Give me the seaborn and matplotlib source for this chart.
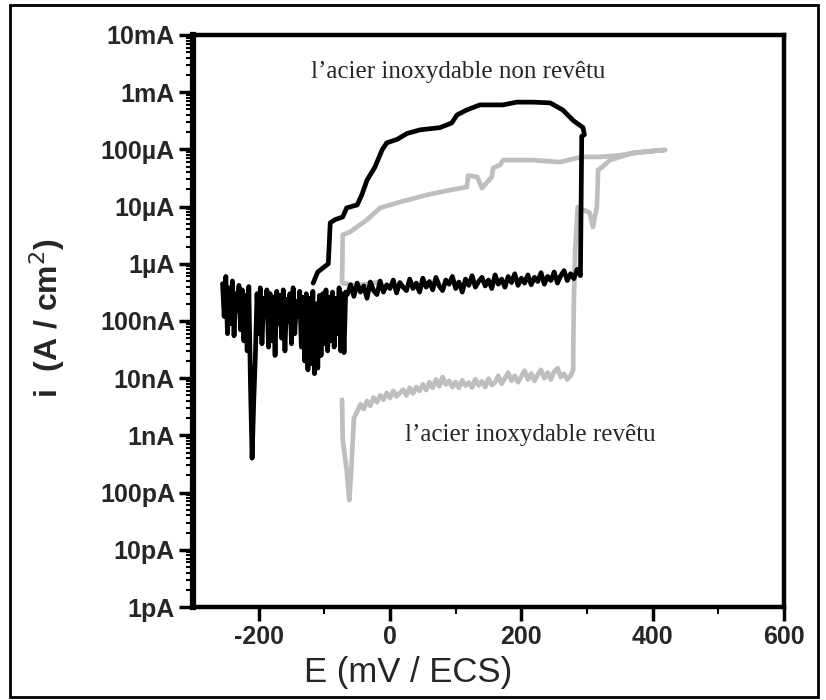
import matplotlib
matplotlib.use("Agg")
import matplotlib.pyplot as plt
from matplotlib.patches import Rectangle
from matplotlib.ticker import FixedLocator, LogLocator, NullFormatter
import seaborn as sns
import pandas as pd
import numpy as np

# ---- data (E in mV/ECS) ----
# uncoated steel: noisy start near the corrosion potential (current in nA)
black_start_E = [-255, -252.5, -250, -247.5, -245, -242.5, -240, -237.5, -235, -232.5, -230, -227.5,
                 -225, -222.5, -220, -217.5, -215, -212.5, -210, -207.5, -205, -202.5, -200, -197.5,
                 -195, -192.5, -190, -187.5, -185, -182.5, -180, -177.5, -175, -172.5, -170, -167.5,
                 -165, -162.5, -160, -157.5, -155, -152.5, -150, -147.5, -145, -142.5, -140, -137.5,
                 -135, -132.5, -130, -127.5, -125, -122.5, -120, -117.5, -115, -112.5, -110, -107.5,
                 -105, -102.5, -100, -97.5, -95, -92.5, -90, -87.5, -85, -82.5, -80, -77.5,
                 -75, -72.5, -70, -67.5]
black_start_nA = [450, 120, 600, 60, 380, 90, 500, 55, 300, 150, 420, 70,
                  350, 45, 280, 30, 400, 8, 0.4, 4, 25, 300, 60, 380,
                  40, 250, 120, 350, 35, 300, 45, 260, 25, 330, 90, 280,
                  50, 350, 30, 240, 100, 300, 40, 380, 60, 220, 120, 330,
                  35, 260, 20, 300, 14, 250, 18, 330, 12, 200, 15, 280,
                  25, 300, 40, 350, 30, 260, 45, 320, 35, 250, 60, 380,
                  30, 300, 28, 320]
# uncoated steel: passive plateau (nA)
black_passive_E = [-65, -60, -55, -50, -45, -40, -35, -30, -25, -20, -15, -10, -5, 0, 5, 10, 15, 20,
                   25, 30, 35, 40, 45, 50, 55, 60, 65, 70, 75, 80, 85, 90, 95, 100, 105, 110,
                   115, 120, 125, 130, 135, 140, 145, 150, 155, 160, 165, 170, 175, 180, 185, 190,
                   195, 200, 205, 210, 215, 220, 225, 230, 235, 240, 245, 250, 255, 260, 265, 270,
                   275, 280, 285, 290]
black_passive_nA = [290, 430, 270, 460, 320, 410, 250, 480, 340, 290, 500, 320, 430, 370, 520, 310, 470, 390,
                    340, 540, 370, 460, 320, 560, 390, 490, 350, 580, 410, 340, 520, 440, 600, 370, 480, 320,
                    540, 420, 620, 390, 490, 580, 410, 520, 370, 640, 440, 540, 390, 600, 470, 670,
                    420, 560, 460, 640, 430, 580, 490, 700, 440, 600, 510, 720, 460, 620, 760, 510,
                    670, 550, 800, 620]
# uncoated steel: pitting and reverse scan (A/cm2)
black_loop_E = [292, 296, 294, 279, 263, 244, 218, 193, 172, 137, 117, 102, 94, 76, 46, 26, 11,
                -5, -12, -23, -35, -43, -50, -66, -72, -84, -91, -94, -110, -117]
black_loop_i = [1.7e-4, 1.8e-4, 2.4e-4, 3.2e-4, 4.9e-4, 6.5e-4, 6.7e-4, 6.7e-4, 6.0e-4, 6.0e-4, 4.9e-4,
                4.0e-4, 2.9e-4, 2.4e-4, 2.2e-4, 1.9e-4, 1.5e-4, 1.3e-4, 9.8e-5, 4.9e-5, 2.9e-5, 1.6e-5,
                1.07e-5, 9.5e-6, 6.6e-6, 5.9e-6, 5.2e-6, 1.0e-6, 7.2e-7, 4.6e-7]

# coated steel: start of the forward scan (nA)
gray_start_E = [-73, -72, -66, -62, -59]
gray_start_nA = [4.2, 0.83, 0.25, 0.074, 0.25]
# coated steel: passive plateau (nA)
gray_passive_E = [-55, -50, -45, -40, -35, -30, -25, -20, -15, -10, -5, 0, 5, 10, 15, 20, 25, 30,
                  35, 40, 45, 50, 55, 60, 65, 70, 75, 80, 85, 90, 95, 100, 105, 110, 115, 120,
                  125, 130, 135, 140, 145, 150, 155, 160, 165, 170, 175, 180, 185, 190, 195, 200,
                  205, 210, 215, 220, 225, 230, 235, 240, 245, 250, 255, 260, 265, 270, 275]
gray_passive_nA = [2.0, 2.6, 3.5, 2.9, 4.0, 3.3, 4.6, 3.8, 5.0, 4.2, 5.5, 4.5, 6.0, 4.8, 5.5, 6.3, 5.0, 6.8,
                   5.4, 7.0, 6.0, 7.8, 6.2, 8.5, 6.8, 9.5, 7.2, 10.5, 7.8, 9.0, 7.0, 8.6, 6.8, 9.2, 7.4, 8.4,
                   6.9, 9.6, 7.5, 8.8, 7.0, 9.8, 7.6, 8.5, 11.0, 8.0, 10.0, 12.5, 9.0, 11.0, 8.5, 10.8,
                   13.5, 9.5, 12.0, 9.0, 11.5, 14.0, 10.0, 12.5, 9.5, 13.0, 15.0, 10.5, 12.0, 9.5, 11.0]
# coated steel: pitting, forward end and reverse scan (A/cm2)
gray_loop_E = [279, 279, 280, 282, 286, 304, 309, 315, 317, 323, 335, 370, 396, 419,
               381, 350, 320, 297, 285, 259, 218, 172, 168, 157, 155, 140, 133, 119, 117, 87,
               56, 15, -15, -35, -61, -72, -73, -50, -15]
gray_loop_i = [1.4e-8, 2.8e-8, 2.3e-7, 1.7e-6, 9.8e-6, 7.8e-6, 4.4e-6, 9.8e-6, 4.4e-5, 4.9e-5, 6.5e-5,
               8.7e-5, 9.3e-5, 9.8e-5,
               8.9e-5, 7.9e-5, 7.4e-5, 7.4e-5, 7.1e-5, 6.0e-5, 6.5e-5, 6.5e-5, 5.4e-5, 4.7e-5, 3.3e-5,
               2.1e-5, 3.3e-5, 3.5e-5, 2.2e-5, 1.9e-5, 1.6e-5, 1.2e-5, 9.5e-6, 5.9e-6, 3.6e-6, 3.2e-6,
               4.6e-7, 4.2e-7, 4.8e-7]

y_ticks = [1e-12, 1e-11, 1e-10, 1e-9, 1e-8, 1e-7, 1e-6, 1e-5, 1e-4, 1e-3, 1e-2]
y_labels = ["1pA", "10pA", "100pA", "1nA", "10nA", "100nA", "1\u00b5A", "10\u00b5A", "100\u00b5A", "1mA", "10mA"]
x_ticks = [-200, 0, 200, 400, 600]
x_minor = [-100, 100, 300, 500]

sns.set_style("ticks")
plt.rcParams['font.family'] = ['Liberation Sans', 'DejaVu Sans']
plt.rcParams['axes.unicode_minus'] = False

nA = 1e-9
black_df = pd.DataFrame({
    "E": black_start_E + black_passive_E + black_loop_E,
    "i": [v * nA for v in black_start_nA + black_passive_nA] + black_loop_i,
})
gray_df = pd.DataFrame({
    "E": gray_start_E + gray_passive_E + gray_loop_E,
    "i": [v * nA for v in gray_start_nA + gray_passive_nA] + gray_loop_i,
})

fig = plt.figure(figsize=(8.26, 7.0), dpi=100)
ax = fig.add_axes([193 / 826, 1 - 607 / 700, (784 - 193) / 826, (607 - 35) / 700])

sns.lineplot(data=gray_df, x="E", y="i", sort=False, estimator=None, color="#bebebe", lw=3.4, ax=ax)
sns.lineplot(data=black_df, x="E", y="i", sort=False, estimator=None, color="black", lw=3.4, ax=ax)

ax.set_yscale("log")
ax.set_xlim(-300, 600)
ax.set_ylim(1e-12, 1e-2)

ax.yaxis.set_major_locator(FixedLocator(y_ticks))
ax.set_yticklabels(y_labels)
ax.yaxis.set_minor_locator(LogLocator(base=10, subs=np.arange(2, 10), numticks=20))
ax.yaxis.set_minor_formatter(NullFormatter())
ax.set_xticks(x_ticks)
ax.set_xticks(x_minor, minor=True)

for lab in ax.get_xticklabels() + ax.get_yticklabels():
    lab.set_fontsize(18)
    lab.set_fontweight("bold")

ax.tick_params(which="major", direction="out", length=10, width=2.5, color="black", pad=3)
ax.tick_params(which="minor", direction="out", length=5, width=1.5, color="black")

for side in ["top", "right", "bottom"]:
    ax.spines[side].set_linewidth(3.2)
    ax.spines[side].set_color("black")
ax.spines["left"].set_linewidth(4.5)
ax.spines["left"].set_color("black")

ax.set_xlabel("E (mV / ECS)", fontsize=25, va="center")
ax.xaxis.set_label_coords(0.364, -0.114)
ax.set_ylabel("i  (A / cm$^2$)", fontsize=23, fontweight="bold", va="center")
ax.yaxis.set_label_coords(-0.247, 0.505)

ax.text(0.448, 0.935, "l\u2019acier inoxydable non rev\u00eatu", transform=ax.transAxes,
        ha="center", va="center", fontsize=18, family="Liberation Serif")
ax.text(0.570, 0.301, "l\u2019acier inoxydable rev\u00eatu", transform=ax.transAxes,
        ha="center", va="center", fontsize=18, family="Liberation Serif")

# outer frame around the whole picture
fig.patches.append(Rectangle((10 / 826, 3 / 700), 808 / 826, 692 / 700, transform=fig.transFigure,
                             fill=False, edgecolor="black", lw=2))

fig.savefig("out.png", dpi=100)
